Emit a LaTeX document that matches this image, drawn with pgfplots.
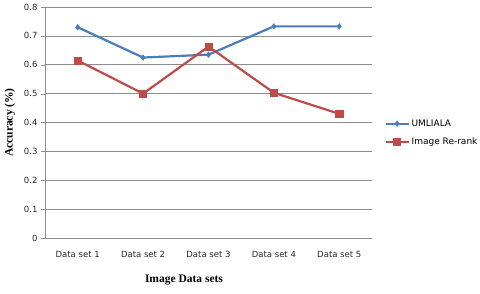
\documentclass[border=0pt]{standalone}
\usepackage{pgfplots}
\pgfplotsset{compat=1.18}
\usepackage{fontspec}
\setmainfont{DejaVu Sans}
\newfontfamily\serifbold{Liberation Serif}
\definecolor{ublue}{HTML}{4A7EBB}
\definecolor{ured}{HTML}{BE4B48}
\definecolor{gridgray}{HTML}{8C8C8C}
\begin{document}
\begin{tikzpicture}
\useasboundingbox (-45pt,-55pt) rectangle (435pt,238pt);
\begin{axis}[
  at={(0pt,0pt)}, anchor=south west,
  scale only axis,
  width=327pt, height=231pt,
  xmin=-0.5, xmax=4.5,
  ymin=0, ymax=0.8,
  axis lines*=left,
  axis line style={gridgray},
  ytick={0,0.1,0.2,0.3,0.4,0.5,0.6,0.7,0.8},
  yticklabels={0,0.1,0.2,0.3,0.4,0.5,0.6,0.7,0.8},
  ymajorgrids,
  grid style={gridgray, line width=0.6pt},
  xtick={0,1,2,3,4},
  xticklabels={Data set 1,Data set 2,Data set 3,Data set 4,Data set 5},
  major x tick style={draw=none},
  extra x ticks={-0.5,0.5,1.5,2.5,3.5,4.5},
  extra x tick labels={},
  extra x tick style={tick style={gridgray}, major tick length=4pt, tick align=outside, xmajorgrids=false},
  tick align=outside,
  major tick length=4pt,
  y tick style={gridgray},
  tick label style={font=\fontsize{8.5}{10}\selectfont, text=black!85},
  xticklabel style={yshift=-6pt},
  xlabel={\serifbold\bfseries Image Data sets},
  xlabel style={font=\fontsize{11.5}{13}\selectfont, at={(rel axis cs:0.425,0)}, anchor=north, yshift=-33pt},
  ylabel={\serifbold\bfseries Accuracy (\%)},
  ylabel style={font=\fontsize{11.5}{13}\selectfont, yshift=2pt},
  legend style={draw=none, fill=none, at={(rel axis cs:1.035,0.455)}, anchor=west, font=\fontsize{9}{11}\selectfont, row sep=6pt, legend cell align=left, inner sep=1pt},
  legend image code/.code={\draw[mark repeat=2,mark phase=2,#1] plot coordinates {(0cm,0cm) (0.4cm,0cm) (0.8cm,0cm)};},
]
\addplot[ublue, line width=2.2pt, mark=diamond*, mark size=2.8pt, mark options={fill=ublue, line width=0.5pt}] coordinates {
(0,0.730) (1,0.625) (2,0.635) (3,0.733) (4,0.733)};
\addlegendentry{UMLIALA}
\addplot[ured, line width=2.2pt, mark=square*, mark size=3.6pt, mark options={fill=ured, line width=0.5pt}] coordinates {
(0,0.615) (1,0.500) (2,0.663) (3,0.503) (4,0.430)};
\addlegendentry{Image Re-rank}
\end{axis}
\end{tikzpicture}
\end{document}
